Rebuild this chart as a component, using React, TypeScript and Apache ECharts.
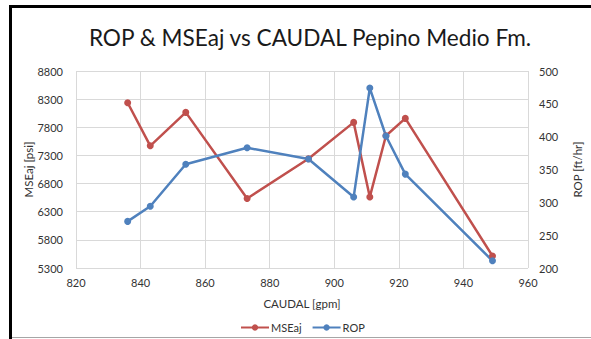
import React, { useEffect, useRef } from "react";
import * as echarts from "echarts";

const caudal = [836, 843, 854, 873, 892, 906, 911, 916, 922, 949];
const mseaj = [8236, 7471, 8065, 6535, 7240, 7887, 6563, 7650, 7958, 5514];
const rop = [271, 294, 358, 383, 366, 308, 474, 401, 343, 211];

const FONT = "Lato";

export default function App() {
  const ref = useRef<HTMLDivElement>(null);
  useEffect(() => {
    if (!ref.current) return;
    const chart = echarts.init(ref.current, undefined, { renderer: "svg" });
    const toPairs = (ys: number[]) => caudal.map((x, i) => [x, ys[i]]);
    const plain = (v: number) => String(v);
    chart.setOption({
      animation: false,
      backgroundColor: "#ffffff",
      textStyle: { fontFamily: FONT },
      title: {
        text: "ROP & MSEaj vs CAUDAL Pepino Medio Fm.",
        left: 305,
        textAlign: "center",
        top: 21,
        textStyle: { fontFamily: FONT, fontSize: 22.6, fontWeight: "normal", color: "#1a1a1a" },
      },
      grid: { left: 76, right: 55, top: 71, bottom: 71, containLabel: false },
      legend: {
        left: 235,
        top: 317,
        itemWidth: 28,
        itemHeight: 8,
        itemGap: 10,
        textStyle: { fontFamily: FONT, fontSize: 11, color: "#333", padding: [0, 0, 0, -3] },
        data: ["MSEaj", "ROP"],
      },
      xAxis: {
        type: "value",
        min: 820,
        max: 960,
        interval: 20,
        name: "CAUDAL [gpm]",
        nameLocation: "middle",
        nameGap: 29,
        nameTextStyle: { fontFamily: FONT, fontSize: 11.5, color: "#333" },
        axisLine: { show: false },
        axisTick: { show: false },
        axisLabel: { fontFamily: FONT, fontSize: 11, color: "#333", margin: 9, formatter: plain },
        splitLine: { show: true, lineStyle: { color: "#d9d9d9", width: 1 } },
      },
      yAxis: [
        {
          type: "value",
          min: 5300,
          max: 8800,
          interval: 500,
          name: "MSEaj [psi]",
          nameLocation: "middle",
          nameGap: 42,
          nameMoveOverlap: false,
          nameRotate: 90,
          nameTextStyle: { fontFamily: FONT, fontSize: 11.5, color: "#333" },
          axisLine: { show: false },
          axisTick: { show: false },
          axisLabel: { fontFamily: FONT, fontSize: 11, color: "#333", margin: 13, formatter: plain },
          splitLine: { show: true, lineStyle: { color: "#d9d9d9", width: 1 } },
        },
        {
          type: "value",
          min: 200,
          max: 500,
          interval: 50,
          position: "right",
          name: "ROP [ft/hr]",
          nameLocation: "middle",
          nameGap: 43,
          nameMoveOverlap: false,
          nameRotate: 90,
          nameTextStyle: { fontFamily: FONT, fontSize: 11.5, color: "#333" },
          axisLine: { show: false },
          axisTick: { show: false },
          axisLabel: { fontFamily: FONT, fontSize: 11, color: "#333", margin: 11, formatter: plain },
          splitLine: { show: false },
        },
      ],
      series: [
        {
          name: "MSEaj",
          type: "line",
          yAxisIndex: 0,
          data: toPairs(mseaj),
          symbol: "circle",
          symbolSize: 7,
          color: "#C0504D",
          lineStyle: { width: 2.5, color: "#C0504D" },
          itemStyle: { color: "#C0504D" },
        },
        {
          name: "ROP",
          type: "line",
          yAxisIndex: 1,
          data: toPairs(rop),
          symbol: "circle",
          symbolSize: 7,
          color: "#4F81BD",
          lineStyle: { width: 2.5, color: "#4F81BD" },
          itemStyle: { color: "#4F81BD" },
        },
      ],
      graphic: [
        { type: "rect", shape: { x: 9, y: 5, width: 582, height: 3 }, style: { fill: "#000" } },
        { type: "rect", shape: { x: 9, y: 5, width: 3, height: 334 }, style: { fill: "#000" } },
        { type: "rect", shape: { x: 12, y: 337, width: 579, height: 1 }, style: { fill: "#a6a6a6" } },
      ],
    });
    return () => chart.dispose();
  }, []);
  return (
    <div
      ref={ref}
      style={{ position: "absolute", left: 0, top: 0, width: 591, height: 339 }}
    />
  );
}
